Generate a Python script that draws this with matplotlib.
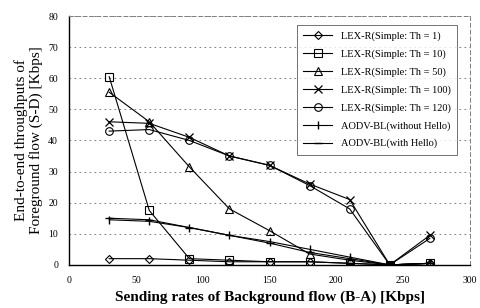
import numpy as np
import matplotlib
matplotlib.use('Agg')
from matplotlib import pyplot as plt

plt.rcParams['font.family'] = ['Liberation Serif', 'DejaVu Serif']

x = [30, 60, 90, 120, 150, 180, 210, 240, 270]

th1 = [2, 2, 1.5, 1, 1, 1, 0.5, 0, 0.5]
th10 = [60.5, 17.5, 2, 1.5, 1, 1, 0.5, 0, 0.5]
th50 = [55.5, 46, 31.5, 18, 11, 3.5, 1.5, 0, 0.5]
th100 = [46, 45.5, 41, 35, 32, 26, 21, 0, 9.5]
th120 = [43, 43.5, 40, 35, 32, 25.5, 18, 0, 8.5]
aodv_nohello = [14.5, 14, 12, 9.5, 7.5, 5, 2.5, 0, 0.5]
aodv_hello = [15, 14.5, 12, 9.5, 7, 4, 2, 0, 0.5]

labels = ['LEX-R(Simple: Th = 1)', 'LEX-R(Simple: Th = 10)',
          'LEX-R(Simple: Th = 50)', 'LEX-R(Simple: Th = 100)',
          'LEX-R(Simple: Th = 120)', 'AODV-BL(without Hello)',
          'AODV-BL(with Hello)']

fig = plt.figure(figsize=(4.8, 3.08), dpi=100)
ax = fig.add_axes([0.144, 0.14, 0.835, 0.808])

lw = 0.8
ms = 5.5
ax.plot(x, th1, color='k', lw=lw, marker='D', ms=4.5, mfc='none', mew=0.8, label=labels[0])
ax.plot(x, th10, color='k', lw=lw, marker='s', ms=ms, mfc='none', mew=0.8, label=labels[1])
ax.plot(x, th50, color='k', lw=lw, marker='^', ms=ms, mfc='none', mew=0.8, label=labels[2])
ax.plot(x, th100, color='k', lw=lw, marker='x', ms=ms, mew=0.9, label=labels[3])
ax.plot(x, th120, color='k', lw=lw, marker='o', ms=ms, mfc='none', mew=0.8, label=labels[4])
ax.plot(x, aodv_nohello, color='k', lw=lw, marker='|', ms=ms, mew=1.0, label=labels[5])
ax.plot(x, aodv_hello, color='k', lw=lw, marker='_', ms=ms, mew=1.0, label=labels[6])

ax.set_xlim(0, 300)
ax.set_ylim(0, 80)
ax.set_xticks(np.arange(0, 301, 50))
ax.set_yticks(np.arange(0, 81, 10))
ax.tick_params(labelsize=7, length=0, pad=8)
ax.yaxis.grid(True, linestyle=(0, (2, 4)), color='0.4', lw=0.6)
ax.set_axisbelow(True)
for s in ['top', 'right']:
    ax.spines[s].set_linestyle((0, (4, 3)))
    ax.spines[s].set_color('0.5')
    ax.spines[s].set_linewidth(0.7)
ax.spines['left'].set_linewidth(1.0)
ax.spines['bottom'].set_linewidth(1.0)

ax.set_ylabel('End-to-end throughputs of\nForeground flow (S-D) [Kbps]', fontsize=11, linespacing=1.1)
ax.set_xlabel('Sending rates of Background flow (B-A) [Kbps]', fontsize=11, fontweight='bold')

leg = ax.legend(loc='upper right', bbox_to_anchor=(0.98, 0.985), fontsize=7.5,
                frameon=True, fancybox=False, edgecolor='0.3', handlelength=2.8,
                labelspacing=0.8, borderpad=0.6)
leg.get_frame().set_linewidth(0.7)

fig.savefig('out.png', dpi=100)
